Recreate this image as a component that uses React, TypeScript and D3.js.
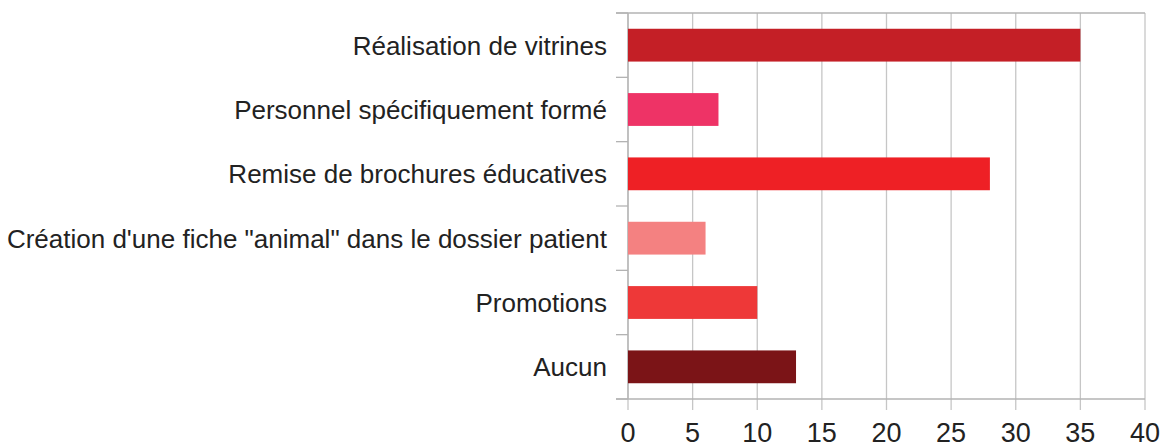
import { useMemo } from "react";
import * as d3 from "d3";

const categories = [
  "Réalisation de vitrines",
  "Personnel spécifiquement formé",
  "Remise de brochures éducatives",
  "Création d'une fiche \"animal\" dans le dossier patient",
  "Promotions",
  "Aucun",
];
const values = [35, 7, 28, 6, 10, 13];
const barColors = ["#c41f26", "#ee3366", "#ee2025", "#f48181", "#ee3838", "#7b1417"];
const xTicks = [0, 5, 10, 15, 20, 25, 30, 35, 40];

const W = 1161;
const H = 446;
const margin = { top: 13, right: 16, bottom: 47, left: 628 };
const FONT = "'Liberation Sans', Arial, sans-serif";

export default function App() {
  const innerW = W - margin.left - margin.right;
  const innerH = H - margin.top - margin.bottom;

  const x = useMemo(() => d3.scaleLinear().domain([0, 40]).range([0, innerW]), [innerW]);
  const y = useMemo(
    () => d3.scaleBand<string>().domain(categories).range([0, innerH]).paddingInner(0.49).paddingOuter(0.245),
    [innerH]
  );
  const step = innerH / categories.length;

  return (
    <svg
      width={W}
      height={H}
      style={{ position: "absolute", left: 0, top: 0, background: "#fff" }}
      fontFamily={FONT}
    >
      <g transform={`translate(${margin.left},${margin.top})`}>
        {/* vertical grid */}
        {xTicks.map((t) => (
          <line key={t} x1={x(t)} x2={x(t)} y1={0} y2={innerH + 11} stroke="#c6c6c6" strokeWidth={1.3} />
        ))}
        {/* top + bottom lines */}
        <line x1={-12} x2={innerW} y1={0} y2={0} stroke="#b3b3b3" strokeWidth={1.3} />
        <line x1={-12} x2={innerW} y1={innerH} y2={innerH} stroke="#b3b3b3" strokeWidth={1.3} />
        {/* left axis with ticks between categories */}
        <line x1={0} x2={0} y1={0} y2={innerH} stroke="#b3b3b3" strokeWidth={1.3} />
        {d3.range(categories.length + 1).map((i) => (
          <line key={i} x1={-12} x2={0} y1={i * step} y2={i * step} stroke="#b3b3b3" strokeWidth={1.3} />
        ))}
        {/* bars */}
        {categories.map((c, i) => (
          <rect key={c} x={x(0)} y={y(c)} width={x(values[i]) - x(0)} height={y.bandwidth()} fill={barColors[i]} />
        ))}
        {/* category labels */}
        {categories.map((c) => (
          <text
            key={c}
            x={-21}
            y={(y(c) ?? 0) + y.bandwidth() / 2 + 9.5}
            textAnchor="end"
            fontSize={26}
            fill="#222"
          >
            {c}
          </text>
        ))}
        {/* x tick labels */}
        {xTicks.map((t) => (
          <text key={t} x={x(t)} y={innerH + 43} textAnchor="middle" fontSize={27} fill="#222">
            {t}
          </text>
        ))}
      </g>
    </svg>
  );
}
